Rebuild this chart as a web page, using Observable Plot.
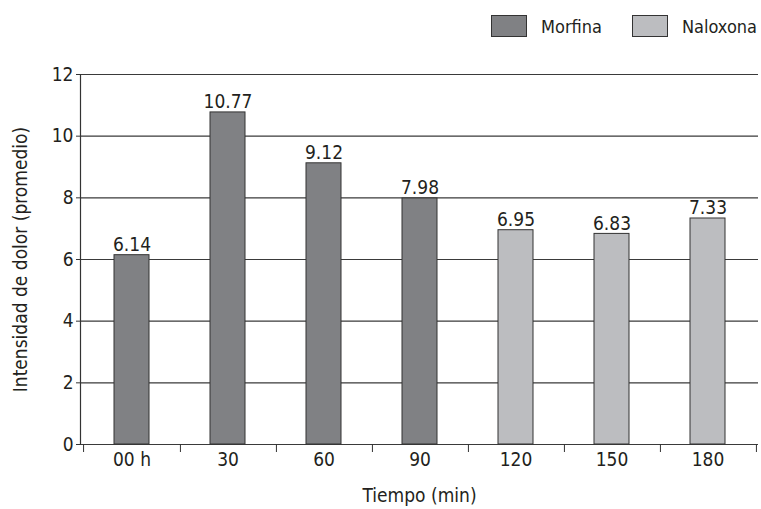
<!DOCTYPE html>
<html><head><meta charset="utf-8">
<script src="https://cdn.jsdelivr.net/npm/d3@7"></script>
<script src="https://cdn.jsdelivr.net/npm/@observablehq/plot@0.6"></script>
<style>
body{margin:0;background:#fff;font-family:"DejaVu Sans Condensed","Liberation Sans Narrow",sans-serif;color:#231f20;}
#wrap{width:761px;height:509px;position:relative;overflow:hidden;}
#legend{height:52px;display:flex;align-items:center;justify-content:flex-end;padding-right:4px;box-sizing:border-box;font-size:18px;white-space:nowrap;}
.sw{flex:0 0 auto;width:34px;height:20px;border:1px solid #333;margin-right:14px;}
.lab{flex:0 0 auto;margin-right:30px;}
.lab:last-child{margin-right:0;}
</style></head>
<body><div id="wrap"><div id="legend"></div><div id="chart"></div></div>
<script>
const categories = ["00 h","30","60","90","120","150","180"];
const values = [6.14,10.77,9.12,7.98,6.95,6.83,7.33];
const groups = ["Morfina","Morfina","Morfina","Morfina","Naloxona","Naloxona","Naloxona"];
const seriesNames = ["Morfina","Naloxona"];
const seriesColors = ["#808184","#bcbdc0"];
const yTicks = [0,2,4,6,8,10,12];
const yTitle = "Intensidad de dolor (promedio)";
const xTitle = "Tiempo (min)";

const data = categories.map((c,i)=>({cat:c, value:values[i], group:groups[i]}));

const legend = document.getElementById("legend");
seriesNames.forEach((n,i)=>{
  const s=document.createElement("div");s.className="sw";s.style.background=seriesColors[i];legend.appendChild(s);
  const t=document.createElement("div");t.className="lab";t.textContent=n;legend.appendChild(t);
});

const W=761,H=457,ML=80,MR=3;
const step=(W-ML-MR)/categories.length;
const font='"DejaVu Sans Condensed","Liberation Sans Narrow",sans-serif';
const chart = Plot.plot({
  width:W,height:H,marginLeft:ML,marginRight:MR,marginTop:22,marginBottom:65,
  style:{fontFamily:font,fontSize:"19px",color:"#231f20",background:"#fff",overflow:"visible"},
  x:{domain:categories,paddingInner:0.64,paddingOuter:0.32,label:null},
  y:{domain:[0,12],label:null},
  color:{domain:seriesNames,range:seriesColors},
  marks:[
    Plot.ruleY(yTicks,{stroke:"#3a3a3a",strokeWidth:1.2}),
    Plot.barY(data,{x:"cat",y:"value",fill:"group",stroke:"#333",strokeWidth:1}),
    Plot.text(data,{x:"cat",y:"value",text:d=>d.value.toFixed(2),lineAnchor:"bottom",dy:-4,fontSize:19,fill:"#231f20"}),
    Plot.axisY({ticks:yTicks,tickSize:4,tickPadding:3,label:yTitle,labelAnchor:"center",labelArrow:"none",labelOffset:67,fontSize:19,stroke:"#333"}),
    Plot.frame({anchor:"left",stroke:"#333",strokeWidth:1.2}),
    Plot.axisX({tickSize:0,tickPadding:8,label:xTitle,labelAnchor:"center",labelArrow:"none",labelOffset:57,fontSize:19}),
    Plot.axisX({text:null,tickSize:8,dx:step/2,stroke:"#333",label:null}),
    Plot.axisX({ticks:[categories[0]],text:null,tickSize:8,dx:-step/2,stroke:"#333",label:null})
  ]
});
document.getElementById("chart").appendChild(chart);
</script></body></html>
